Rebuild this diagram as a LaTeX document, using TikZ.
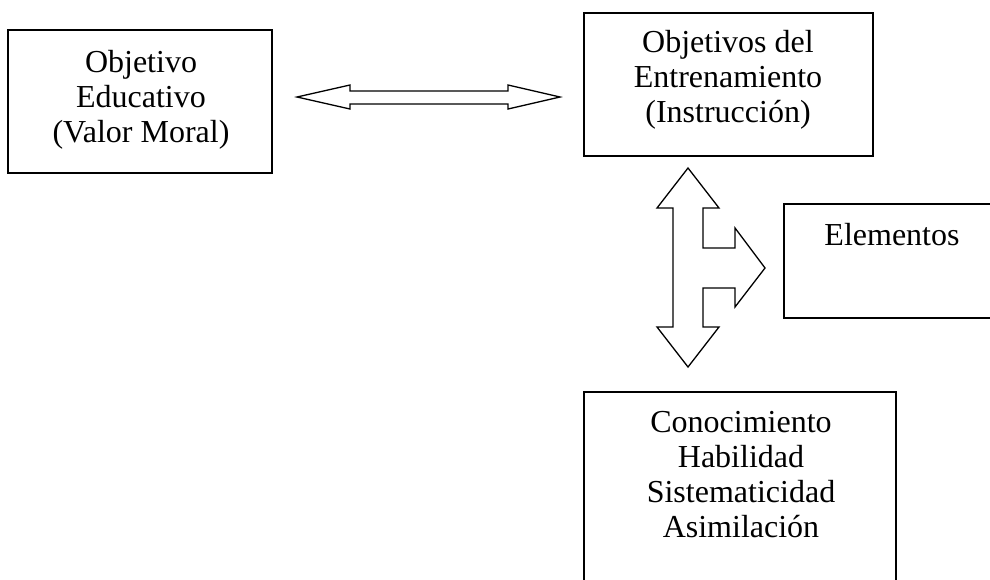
\documentclass[tikz,border=0pt]{standalone}
\usepackage{fontspec}
\setmainfont{Liberation Serif}
\begin{document}
\begin{tikzpicture}[x=1pt,y=-1pt,
  box/.style={draw,line width=1.4pt,rectangle,inner sep=0pt},
  lbl/.style={align=center,inner sep=0pt,anchor=north,font=\fontsize{32}{35}\selectfont},
  blockarrow/.style={draw,line width=1.3pt,fill=white,line join=miter}]
\useasboundingbox (0,0) rectangle (990,579);
\clip (0,0) rectangle (990,579);
% boxes
\node[box,minimum width=264pt,minimum height=143pt] (edu) at (140,101.5) {};
\node[box,minimum width=289pt,minimum height=143pt] (ent) at (728.5,84.5) {};
\node[box,minimum width=230pt,minimum height=114pt] (ele) at (899,261) {};
\node[box,minimum width=312pt,minimum height=230pt] (con) at (740,507) {};
% texts
\node[lbl] (tedu) at (141,50) {Objetivo\\Educativo\\(Valor Moral)};
\node[lbl] (tent) at (728,30) {Objetivos del\\Entrenamiento\\(Instrucción)};
\node[lbl] (tele) at (892,223) {Elementos};
\node[lbl] (tcon) at (741,411) {Conocimiento\\Habilidad\\Sistematicidad\\Asimilación};
% horizontal double arrow
\draw[blockarrow] (297,97) -- (350,85) -- (350,91) -- (508,91) -- (508,85) -- (560,97)
  -- (508,109) -- (508,104) -- (350,104) -- (350,109) -- cycle;
% vertical three-way arrow
\draw[blockarrow] (688,168) -- (719,208) -- (703,208) -- (703,248) -- (735,248) -- (735,228)
  -- (765,268) -- (735,307) -- (735,288) -- (703,288) -- (703,327) -- (719,327)
  -- (688,367) -- (657,327) -- (673,327) -- (673,208) -- (657,208) -- cycle;
\end{tikzpicture}
\end{document}
